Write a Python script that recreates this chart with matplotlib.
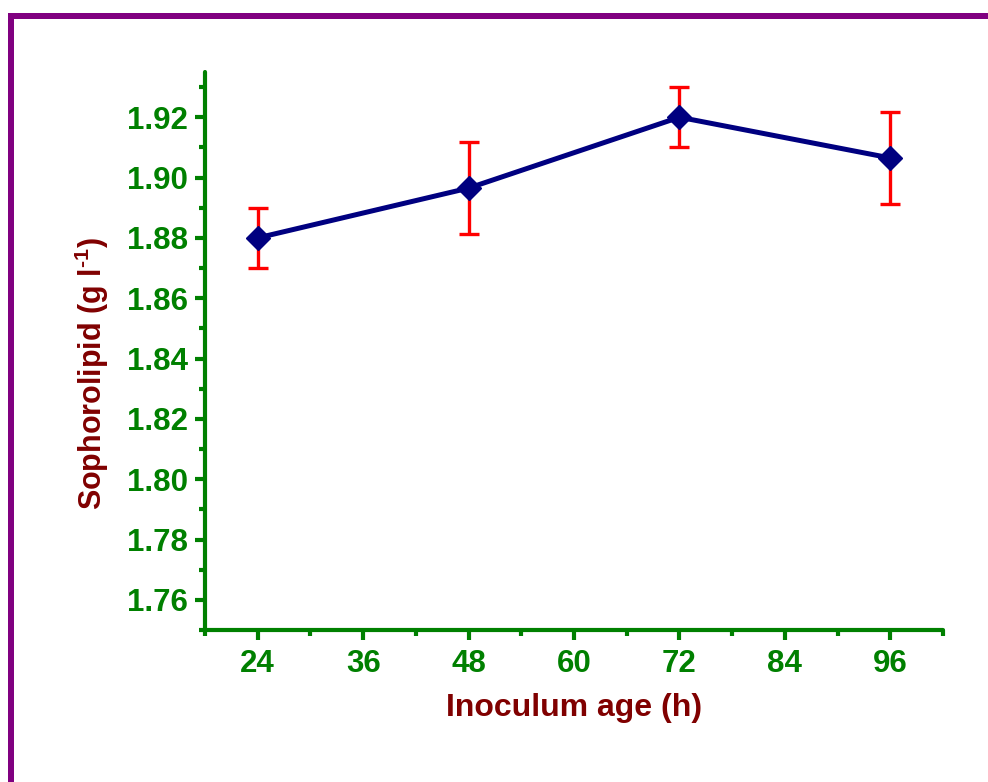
import matplotlib
matplotlib.use("Agg")
import matplotlib.pyplot as plt
from matplotlib.patches import Rectangle
from matplotlib.ticker import MultipleLocator, FixedLocator

plt.rcParams['font.family'] = ['Liberation Sans', 'DejaVu Sans']
plt.rcParams['font.weight'] = 'bold'
plt.rcParams['mathtext.fontset'] = 'custom'
plt.rcParams['mathtext.rm'] = 'Liberation Sans:bold'
plt.rcParams['mathtext.bf'] = 'Liberation Sans:bold'
plt.rcParams['mathtext.default'] = 'bf'

# Data
inoculum_age = [24, 48, 72, 96]
sophorolipid = [1.880, 1.8965, 1.920, 1.9065]
errors = [0.010, 0.0153, 0.010, 0.0153]
x_ticks = [24, 36, 48, 60, 72, 84, 96]
y_ticks = [1.76, 1.78, 1.80, 1.82, 1.84, 1.86, 1.88, 1.90, 1.92]

green = '#008000'
label_col = '#800000'

fig = plt.figure(figsize=(9.88, 7.82), dpi=100)
ax = fig.add_axes([205/988, 152/782, 738/988, 558/782])

ax.errorbar(inoculum_age, sophorolipid, yerr=errors, fmt='none',
            ecolor='#ff0000', elinewidth=2.4, capsize=7, capthick=2.4, zorder=2)
ax.plot(inoculum_age, sophorolipid, color='#000080', linewidth=3.6,
        marker='D', markersize=12.5, markerfacecolor='#000080',
        markeredgecolor='#000080', zorder=3)

ax.set_xlim(18, 102)
ax.set_ylim(1.75, 1.935)

ax.xaxis.set_major_locator(FixedLocator(x_ticks))
ax.xaxis.set_minor_locator(MultipleLocator(6))
ax.yaxis.set_major_locator(FixedLocator(y_ticks))
ax.yaxis.set_minor_locator(MultipleLocator(0.01))
ax.set_xticklabels([str(v) for v in x_ticks])
ax.set_yticklabels([f"{v:.2f}" for v in y_ticks])

for s in ['top', 'right']:
    ax.spines[s].set_visible(False)
for s in ['left', 'bottom']:
    ax.spines[s].set_color(green)
    ax.spines[s].set_linewidth(3)
    ax.spines[s].set_capstyle('round')

ax.tick_params(which='major', direction='out', length=7, width=3, color=green,
               labelcolor=green, labelsize=22.5, pad=5)
ax.tick_params(which='minor', direction='out', length=4.5, width=3, color=green)
ax.tick_params(axis='x', which='major', pad=7)
for lab in ax.get_xticklabels() + ax.get_yticklabels():
    lab.set_fontweight('bold')

ax.set_xlabel('Inoculum age (h)', fontsize=23, fontweight='bold', color=label_col, va='center')
ax.xaxis.set_label_coords(0.5, -0.139)
ax.set_ylabel(r'Sophorolipid (g l$^{\text{-1}}$)', fontsize=22, fontweight='bold',
              color=label_col, va='center')
ax.yaxis.set_label_coords(-0.153, 0.46)

# purple frame (top and left)
fig.add_artist(Rectangle((8/988, (782-19)/782), 980/988, 6/782,
                         transform=fig.transFigure, color='#800080', lw=0))
fig.add_artist(Rectangle((8/988, 0), 6/988, (782-13)/782,
                         transform=fig.transFigure, color='#800080', lw=0))

fig.savefig('out.png', dpi=100)
